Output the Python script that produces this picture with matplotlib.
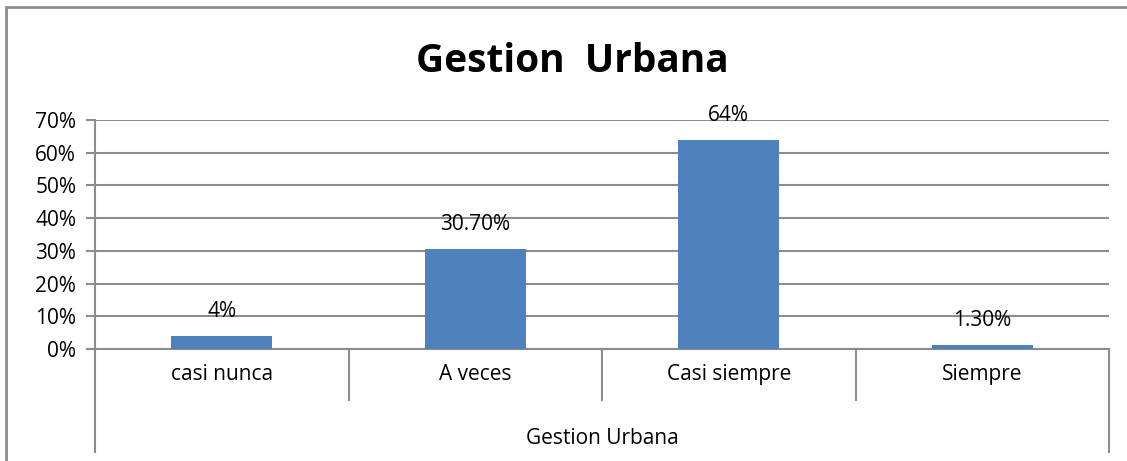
import matplotlib.pyplot as plt
from matplotlib.patches import Rectangle

categories = ['casi nunca', 'A veces', 'Casi siempre', 'Siempre']
values = [0.04, 0.307, 0.64, 0.013]
value_labels = ['4%', '30.70%', '64%', '1.30%']
group_label = 'Gestion Urbana'
title = 'Gestion  Urbana'
yticks = [0, 0.1, 0.2, 0.3, 0.4, 0.5, 0.6, 0.7]
ytick_labels = ['0%', '10%', '20%', '30%', '40%', '50%', '60%', '70%']

plt.rcParams['font.family'] = ['Open Sans', 'DejaVu Sans']
W, H = 1127, 461
fig = plt.figure(figsize=(W / 100, H / 100), dpi=100)
grey = '#8c8c8c'
fs = 15

# chart area border (runs off the right/bottom edges)
fig.patches.append(Rectangle((6 / W, -0.1), 1.2, 1 - 7 / H + 0.1, transform=fig.transFigure,
                             fill=False, edgecolor=grey, linewidth=2))

# plot area in pixels: left 95, right 1109, top 120, bottom 349
ax = fig.add_axes([95 / W, 1 - 349 / H, (1109 - 95) / W, (349 - 120) / H])
x = range(len(categories))
ax.bar(x, values, width=0.4, color='#4F81BD', zorder=3)
ax.set_xlim(-0.5, len(categories) - 0.5)
ax.set_ylim(0, 0.7)
ax.set_yticks(yticks)
ax.set_yticklabels(ytick_labels, fontsize=fs)
ax.set_xticks([])
ax.yaxis.grid(True, color=grey, linewidth=1.5, zorder=0)
for s in ['top', 'right']:
    ax.spines[s].set_visible(False)
for s in ['left', 'bottom']:
    ax.spines[s].set_color(grey)
    ax.spines[s].set_linewidth(1.5)
ax.tick_params(axis='y', length=6.5, width=1.5, color=grey, pad=7)

for i, (v, lab) in enumerate(zip(values, value_labels)):
    ax.annotate(lab, (i, v), xytext=(0, 19), textcoords='offset pixels',
                ha='center', va='baseline', fontsize=fs)

# multi-level category axis
axh = 349 - 120
trans = ax.get_xaxis_transform()
for i in range(len(categories) + 1):
    xb = i - 0.5
    low = -103 / axh if i in (0, len(categories)) else -51 / axh
    ax.plot([xb, xb], [0, low], transform=trans, color=grey, linewidth=1.5, clip_on=False)
for i, c in enumerate(categories):
    ax.text(i, -25 / axh, c, transform=trans, ha='center', va='center', fontsize=fs)
ax.text((len(categories) - 1) / 2, -89 / axh, group_label, transform=trans,
        ha='center', va='center', fontsize=fs)

fig.text(572 / W, 1 - 61 / H, title, ha='center', va='center', fontsize=28, fontweight='bold')

fig.savefig('out.png', dpi=100)
